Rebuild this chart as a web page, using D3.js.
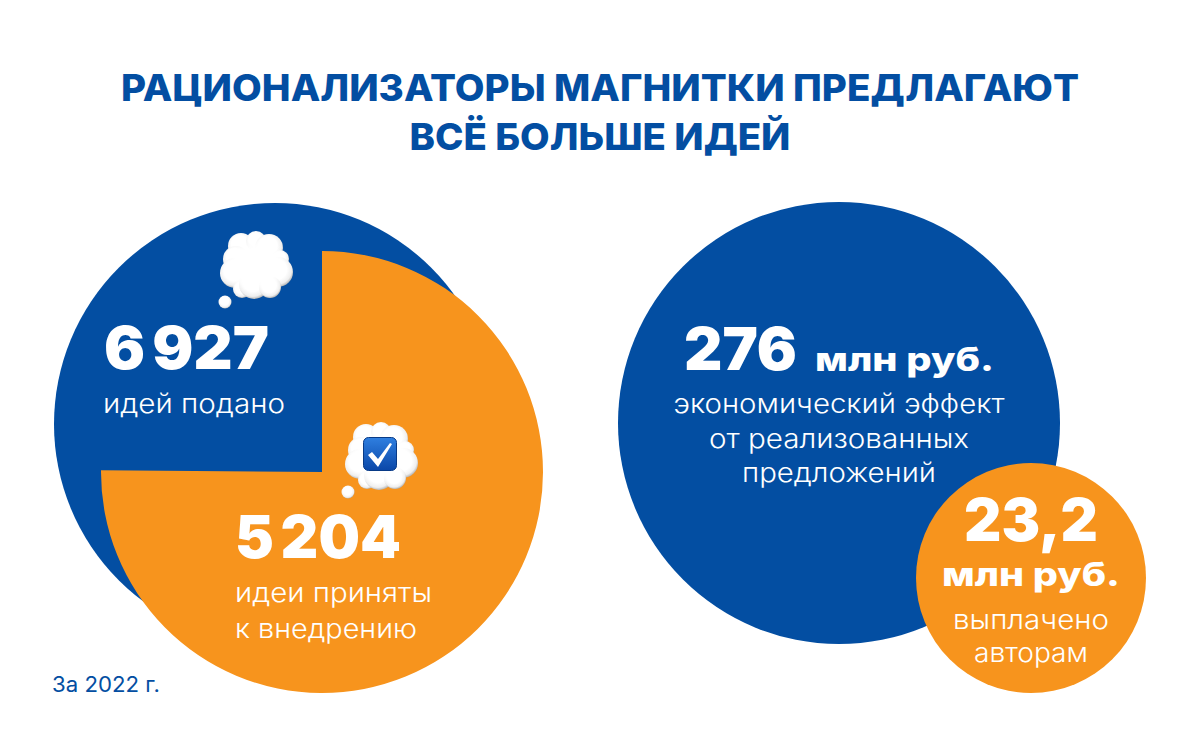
<!DOCTYPE html>
<html><head><meta charset="utf-8">
<script src="https://cdn.jsdelivr.net/npm/d3@7"></script>
<style>html,body{margin:0;background:#fff}svg{display:block}</style></head>
<body><svg id="c" width="1200" height="747"></svg>
<script>
const titleLines = ["РАЦИОНАЛИЗАТОРЫ МАГНИТКИ ПРЕДЛАГАЮТ","ВСЁ БОЛЬШЕ ИДЕЙ"];
const ideasSubmitted = 6927;
const ideasAccepted = 5204;
const submittedLabel = ["6 927"];
const submittedText = ["идей подано"];
const acceptedLabel = ["5 204"];
const acceptedText = ["идеи приняты","к внедрению"];
const effectText = ["экономический эффект","от реализованных","предложений"];
const paidText = ["выплачено","авторам"];
const footnote = "За 2022 г.";
const BLUE="#034ea2", ORANGE="#f7941d";
const FS="Inter,'Open Sans',sans-serif", FB="Inter,Roboto,sans-serif";
const svg=d3.select("#c");
const defs=svg.append("defs");
const g=defs.append("radialGradient").attr("id","puff").attr("cx","46%").attr("cy","42%").attr("r","60%");
g.append("stop").attr("offset","0.55").attr("stop-color","#ffffff");
g.append("stop").attr("offset","0.82").attr("stop-color","#efefef");
g.append("stop").attr("offset","1").attr("stop-color","#a9a9a9");
const f=defs.append("filter").attr("id","soft").attr("x","-30%").attr("y","-30%").attr("width","160%").attr("height","160%");
f.append("feGaussianBlur").attr("stdDeviation",3);
const bx=defs.append("linearGradient").attr("id","box").attr("x1",0).attr("y1",0).attr("x2",0).attr("y2",1);
bx.append("stop").attr("offset",0).attr("stop-color","#2f7fe0");
bx.append("stop").attr("offset",1).attr("stop-color","#0a47a8");

function text(x,y,s,size,fill,opt={}){
  return svg.append("text").attr("x",x).attr("y",y).text(s)
   .attr("font-size",size).attr("fill",fill)
   .attr("font-family",opt.family||FS).attr("font-weight",opt.weight||300)
   .attr("text-anchor",opt.anchor||"start").attr("textLength",opt.len||null)
   .attr("lengthAdjust",opt.len?"spacingAndGlyphs":null)
   .style("word-spacing",opt.ws||null);
}
titleLines.forEach((t,i)=>text(600,[101,150][i],t,37,BLUE,{family:FB,weight:800,anchor:"middle",len:[958,381][i]}));

svg.append("circle").attr("cx",275).attr("cy",424).attr("r",221).attr("fill",BLUE);
const angle=d3.scaleLinear().domain([0,ideasSubmitted]).range([0,2*Math.PI]);
svg.append("path").attr("transform","translate(322,472)")
  .attr("d",d3.arc().innerRadius(0).outerRadius(221).startAngle(0).endAngle(angle(ideasAccepted))())
  .attr("fill",ORANGE);

function cloud(cx,cy,k,bub){
  const puffs=[[-15,-19,13],[0,-24,10],[13,-17,14],[24,-6,9],[-20,-6,13],[22,7,15],[-21,8,15],[-14,24,9],[-2,19,15],[14,22,11]];
  const gg=svg.append("g").attr("transform",`translate(${cx},${cy}) scale(${k})`);
  gg.selectAll("circle.p").data(puffs).join("circle").attr("class","p")
    .attr("cx",d=>d[0]).attr("cy",d=>d[1]).attr("r",d=>d[2]).attr("fill","url(#puff)");
  gg.append("ellipse").attr("cx",0).attr("cy",0).attr("rx",27).attr("ry",23).attr("fill","#fff").attr("filter","url(#soft)");
  gg.append("circle").attr("cx",bub[0]).attr("cy",bub[1]).attr("r",bub[2]).attr("fill","url(#puff)");
}
cloud(256,265,1,[-31,37,6.5]);
cloud(381,456,1,[-33,36,6.5]);
const ck=svg.append("g").attr("transform","translate(380,454)");
ck.append("rect").attr("x",-16.5).attr("y",-16.5).attr("width",33).attr("height",33).attr("rx",5).attr("fill","url(#box)").attr("stroke","#083a86").attr("stroke-width",1);
ck.append("path").attr("d","M-12,1 L-8,-2 L-2,5 L10,-11 L12,-10 L-2,13 Z").attr("fill","#fff");

const big={family:FB,weight:900};
text(104,369,submittedLabel[0],59,"#fff",{...big,len:165,ws:"-5px"});
text(103,413,submittedText[0],26.5,"#fff",{len:182});
text(235,558,acceptedLabel[0],59,"#fff",{...big,len:166,ws:"-5px"});
acceptedText.forEach((t,i)=>text(235,[602,638][i],t,26.5,"#fff",{len:[197,182][i]}));
text(52,692,footnote,21,BLUE,{len:108,weight:400});

svg.append("circle").attr("cx",839).attr("cy",423).attr("r",221).attr("fill",BLUE);
svg.append("circle").attr("cx",1031).attr("cy",578).attr("r",115).attr("fill",ORANGE);
text(684,370,"276",59,"#fff",{...big,len:113});
text(815,371,"млн руб.",33,"#fff",{family:FB,weight:800,len:179});
effectText.forEach((t,i)=>text(839,[413,448,482][i],t,26.5,"#fff",{anchor:"middle",len:[331,260,194][i]}));
text(1031,541,"23,2",59,"#fff",{...big,anchor:"middle",len:134});
text(1031,586,"млн руб.",33,"#fff",{family:FB,weight:800,anchor:"middle",len:178});
paidText.forEach((t,i)=>text(1031,[629,662][i],t,26.5,"#fff",{anchor:"middle",len:[156,114][i]}));
</script></body></html>
